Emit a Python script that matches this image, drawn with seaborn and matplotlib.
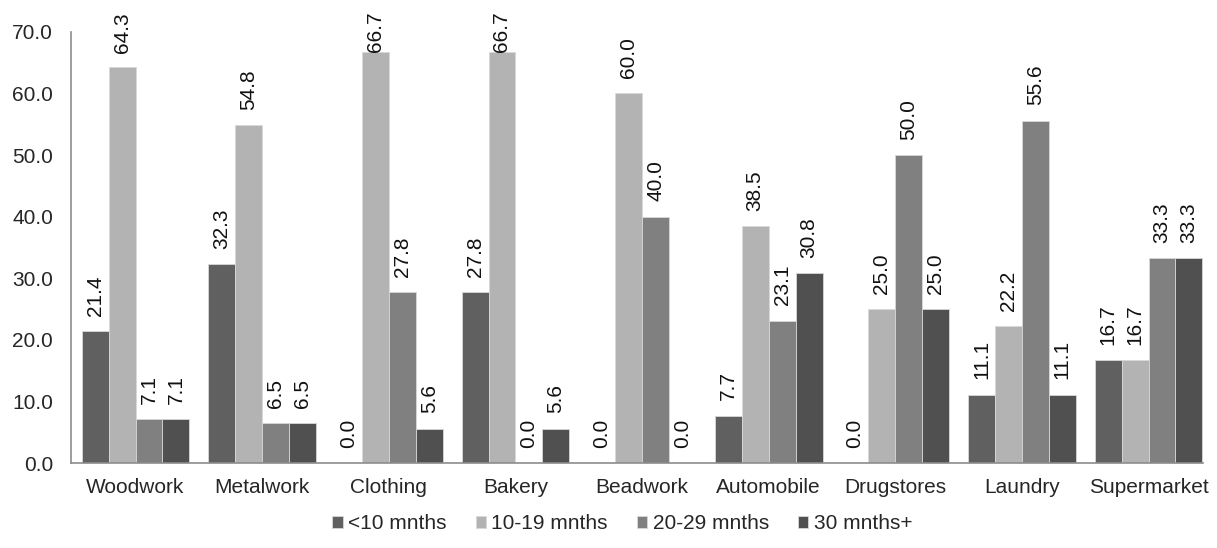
import matplotlib
matplotlib.use("Agg")
import matplotlib.pyplot as plt
import seaborn as sns
import pandas as pd

categories = ["Woodwork", "Metalwork", "Clothing", "Bakery", "Beadwork",
              "Automobile", "Drugstores", "Laundry", "Supermarket"]
groups = ["<10 mnths", "10-19 mnths", "20-29 mnths", "30 mnths+"]
lt10 = [21.4, 32.3, 0.0, 27.8, 0.0, 7.7, 0.0, 11.1, 16.7]
m10_19 = [64.3, 54.8, 66.7, 66.7, 60.0, 38.5, 25.0, 22.2, 16.7]
m20_29 = [7.1, 6.5, 27.8, 0.0, 40.0, 23.1, 50.0, 55.6, 33.3]
m30p = [7.1, 6.5, 5.6, 5.6, 0.0, 30.8, 25.0, 11.1, 33.3]
colors = ["#606060", "#b3b3b3", "#808080", "#505050"]

series = [lt10, m10_19, m20_29, m30p]
rows = []
for g, vals in zip(groups, series):
    for c, v in zip(categories, vals):
        rows.append({"category": c, "group": g, "value": v})
df = pd.DataFrame(rows)

sns.set_style("white")
plt.rcParams["font.family"] = ["Liberation Sans", "DejaVu Sans"]

fig, ax = plt.subplots(figsize=(12.17, 5.48), dpi=100)
fig.subplots_adjust(left=71 / 1217, right=1203 / 1217, top=0.942, bottom=0.155)

sns.barplot(data=df, x="category", y="value", hue="group", order=categories,
            hue_order=groups, palette=colors, width=0.85, ax=ax,
            edgecolor="#d8d8d8", linewidth=0.6, saturation=1)

labels = []
for cont in ax.containers:
    labels += ax.bar_label(cont, fmt="%.1f", rotation=90, padding=11,
                           fontsize=15, color="#111111")

ax.set_xlim(-0.51, 8.43)
ax.set_ylim(0, 70)
ax.set_yticks(range(0, 71, 10))
ax.set_yticklabels([f"{v:.1f}" for v in range(0, 71, 10)], fontsize=15)
ax.tick_params(axis="x", labelsize=15, length=0, pad=11)
ax.tick_params(axis="y", length=0, pad=13)
ax.set_xlabel("")
ax.set_ylabel("")
for side in ["top", "right"]:
    ax.spines[side].set_visible(False)
for side in ["left", "bottom"]:
    ax.spines[side].set_color("#8c8c8c")
    ax.spines[side].set_linewidth(1.2)

ax.legend(loc="upper center", bbox_to_anchor=(0.487, -0.075), ncol=4,
          frameon=False, fontsize=15, handlelength=0.5, handleheight=0.5,
          handletextpad=0.25, columnspacing=1.4)

# keep value labels inside the figure: slide tall ones down toward their bar
fig.canvas.draw()
renderer = fig.canvas.get_renderer()
top_limit = fig.bbox.height - 12
for ann in labels:
    bb = ann.get_window_extent(renderer)
    if bb.y1 > top_limit:
        over_pts = (bb.y1 - top_limit) * 72.0 / fig.dpi
        dx, dy = ann.xyann
        ann.xyann = (dx, max(0.0, dy - over_pts))

fig.savefig("out.png", dpi=100)
